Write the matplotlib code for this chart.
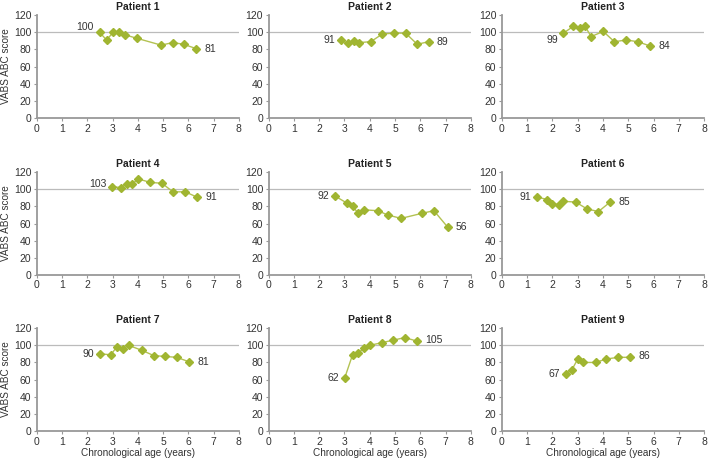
import matplotlib
matplotlib.use('Agg')
import matplotlib.pyplot as plt

# ── data ─────────────────────────────────────────────────────────────────────
patients = ["Patient 1", "Patient 2", "Patient 3",
            "Patient 4", "Patient 5", "Patient 6",
            "Patient 7", "Patient 8", "Patient 9"]

age_p1 = [2.48, 2.76, 3.02, 3.27, 3.49, 3.96, 4.92, 5.38, 5.81, 6.30]
abc_p1 = [100, 91, 100, 100, 97, 93, 85, 88, 86, 81]

age_p2 = [2.86, 3.12, 3.36, 3.58, 4.04, 4.50, 4.96, 5.42, 5.88, 6.33]
abc_p2 = [91, 87, 90, 88, 89, 98, 99, 99, 86, 89]

age_p3 = [2.43, 2.83, 3.08, 3.29, 3.53, 4.01, 4.45, 4.92, 5.38, 5.86]
abc_p3 = [99, 107, 105, 107, 95, 101, 89, 91, 89, 84]

age_p4 = [2.97, 3.32, 3.55, 3.76, 4.02, 4.49, 4.95, 5.39, 5.87, 6.33]
abc_p4 = [103, 102, 106, 106, 112, 108, 107, 97, 97, 91]

age_p5 = [2.63, 3.09, 3.33, 3.54, 3.76, 4.32, 4.71, 5.24, 6.08, 6.54, 7.08]
abc_p5 = [92, 84, 80, 72, 76, 75, 70, 66, 72, 75, 56]

age_p6 = [1.39, 1.79, 1.99, 2.24, 2.43, 2.92, 3.37, 3.82, 4.28]
abc_p6 = [91, 88, 83, 82, 86, 85, 77, 74, 85]

age_p7 = [2.50, 2.93, 3.16, 3.42, 3.63, 4.17, 4.63, 5.08, 5.53, 6.01]
abc_p7 = [90, 89, 98, 96, 100, 94, 88, 87, 86, 81]

age_p8 = [3.01, 3.32, 3.54, 3.79, 4.00, 4.47, 4.92, 5.39, 5.86]
abc_p8 = [62, 89, 91, 97, 100, 103, 106, 109, 105]

age_p9 = [2.53, 2.76, 3.00, 3.22, 3.71, 4.12, 4.61, 5.07]
abc_p9 = [67, 71, 84, 80, 80, 84, 86, 86]

ages = [age_p1, age_p2, age_p3, age_p4, age_p5, age_p6, age_p7, age_p8, age_p9]
scores = [abc_p1, abc_p2, abc_p3, abc_p4, abc_p5, abc_p6, abc_p7, abc_p8, abc_p9]

x_ticks = list(range(0, 9))
y_ticks = list(range(0, 121, 20))
reference_score = 100

# label offsets (points) for first / last value labels
first_off = [(-4, 4), (-4, 0), (-4, -5), (-4, 2), (-4, 0), (-4, 0), (-4, 0), (-4, 0), (-4, 0)]
last_off = [(6, 0), (6, 0), (6, 0), (6, 0), (6, 0), (6, 0), (6, 0), (6, 1), (6, 1)]

plt.rcParams['font.family'] = ['Liberation Sans', 'DejaVu Sans']

fig = plt.figure(figsize=(7.09, 4.59), dpi=100)

col_left = [0.052, 0.379, 0.708]
row_bottom = [0.743, 0.401, 0.061]
ax_w, ax_h = 0.285, 0.224

marker_col = '#a0b531'
line_col = '#b3c252'
spine_col = '#999999'
text_col = '#333333'

for i, name in enumerate(patients):
    r, c = divmod(i, 3)
    ax = fig.add_axes([col_left[c], row_bottom[r], ax_w, ax_h])
    ax.axhline(reference_score, color='#bbbbbb', lw=0.9, zorder=1)
    ax.plot(ages[i], scores[i], color=line_col, lw=1.0, marker='D',
            markersize=3.8, markerfacecolor=marker_col,
            markeredgecolor=marker_col, zorder=3)

    ax.annotate(str(scores[i][0]), (ages[i][0], scores[i][0]),
                textcoords='offset points', xytext=first_off[i],
                ha='right', va='center', fontsize=7.5, color=text_col)
    ax.annotate(str(scores[i][-1]), (ages[i][-1], scores[i][-1]),
                textcoords='offset points', xytext=last_off[i],
                ha='left', va='center', fontsize=7.5, color=text_col)

    ax.set_xlim(0, 8)
    ax.set_ylim(0, 120)
    ax.set_xticks(x_ticks)
    ax.set_yticks(y_ticks)
    ax.tick_params(labelsize=7.5, length=2.5, width=0.8, color=spine_col,
                   labelcolor=text_col, pad=1.5)
    for side in ('top', 'right'):
        ax.spines[side].set_visible(False)
    for side in ('left', 'bottom'):
        ax.spines[side].set_color(spine_col)
        ax.spines[side].set_linewidth(1.3)
    ax.set_title(name, fontsize=7.5, fontweight='bold', color='#222222', pad=4)

    if c == 0:
        ax.set_ylabel('VABS ABC score', fontsize=7.2, color=text_col, labelpad=2)
    if r == 2:
        ax.set_xlabel('Chronological age (years)', fontsize=7.2, color=text_col, labelpad=1)

plt.savefig('out.png', dpi=100)
plt.close()
